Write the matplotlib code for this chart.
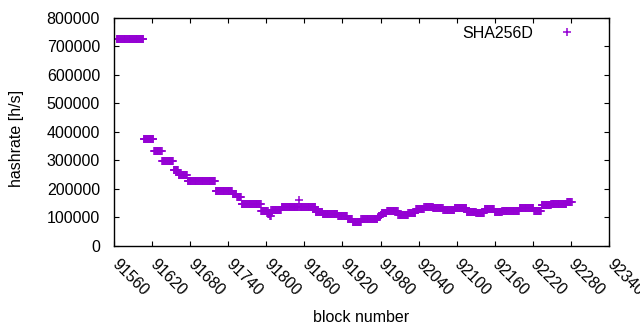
import numpy as np
import matplotlib.pyplot as plt

plt.rcParams['font.family'] = ['Liberation Sans', 'DejaVu Sans']

# runs of equal hashrate: first block of each run and its value
run_start = [91564, 91607, 91623, 91636, 91654, 91662, 91676, 91720, 91747, 91754,
             91761, 91792, 91803, 91806, 91808, 91824, 91851, 91852, 91878, 91889,
             91913, 91928, 91936, 91950, 91976, 91980, 91982, 91990, 92008, 92024,
             92036, 92049, 92063, 92079, 92097, 92116, 92131, 92144, 92160, 92172,
             92186, 92199, 92222, 92234, 92249, 92274]
run_hashrate = [725000, 373000, 331000, 296000, 265000, 247000, 228000, 191000, 180000, 172000,
                146000, 121000, 112000, 104000, 125000, 135000, 160000, 134000, 118000, 111000,
                104000, 93000, 84000, 92000, 100000, 108000, 116000, 123000, 109000, 116000,
                128000, 134000, 131000, 126000, 131000, 117000, 114000, 128000, 117000, 123000,
                120000, 131000, 123000, 142000, 146000, 153000]
last_block = 92281

x_ticks = list(range(91560, 92341, 60))
y_ticks = list(range(0, 800001, 100000))

starts = np.array(run_start)
ends = np.append(starts[1:], last_block + 1)
blocks = np.concatenate([np.arange(s, e) for s, e in zip(starts, ends)])
hashrate = np.repeat(run_hashrate, ends - starts)

W, H = 640, 330
fig = plt.figure(figsize=(W / 100, H / 100), dpi=100)
ax = fig.add_axes([114 / W, 1 - 245.5 / H, (609 - 114) / W, (245.5 - 18) / H])

ax.plot(blocks, hashrate, ls='none', marker='+', ms=6, mew=1.1,
        color='#9400d3', label='SHA256D')

ax.set_xlim(91560, 92340)
ax.set_ylim(0, 800000)
ax.set_xticks(x_ticks)
ax.set_xticklabels([str(t) for t in x_ticks], rotation=-45, ha='left',
                   va='center', rotation_mode='anchor')
ax.set_yticks(y_ticks)
ax.set_yticklabels([str(t) for t in y_ticks])

ax.tick_params(direction='in', top=True, right=True, length=3.6, width=0.8,
               labelsize=11.5, colors='black')
ax.tick_params(axis='x', pad=12)
ax.tick_params(axis='y', pad=10)
for s in ax.spines.values():
    s.set_linewidth(1.0)

fig.text(17 / W, 1 - 138 / H, 'hashrate [h/s]', rotation=90, ha='center',
         va='center', fontsize=11.5)
fig.text(361 / W, 1 - 317 / H, 'block number', ha='center', va='center',
         fontsize=11.5)

ax.legend(loc='center right', bbox_to_anchor=(583 / W, 1 - 33 / H),
          bbox_transform=fig.transFigure, frameon=False, markerfirst=False,
          handlelength=2, handletextpad=1.1, borderpad=0, borderaxespad=0,
          fontsize=11.5)

fig.savefig('out.png', dpi=100)
